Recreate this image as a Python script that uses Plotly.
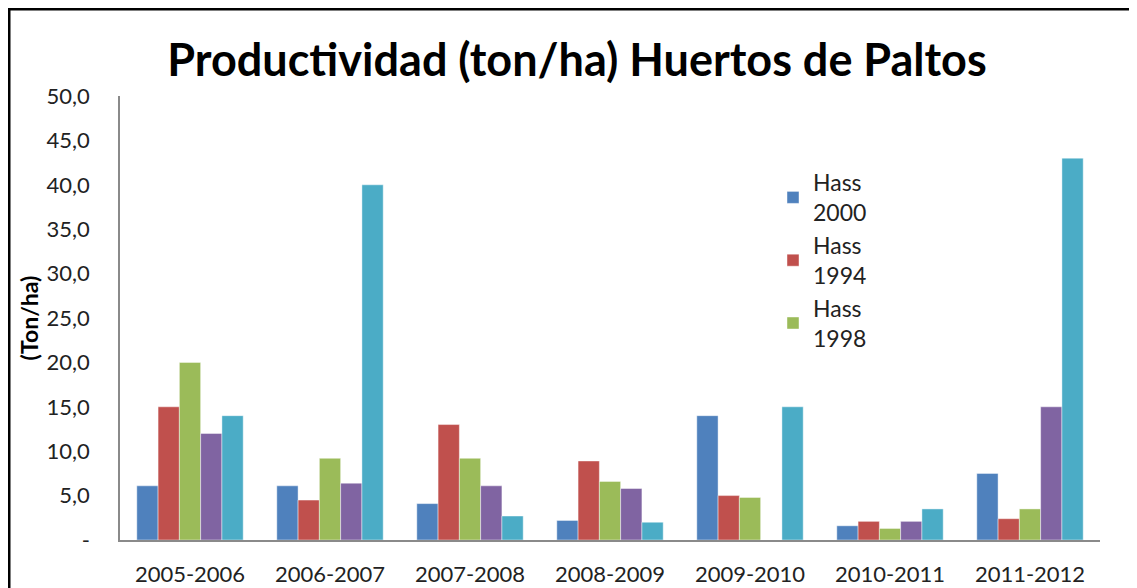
import plotly.graph_objects as go

categories = ["2005-2006", "2006-2007", "2007-2008", "2008-2009", "2009-2010", "2010-2011", "2011-2012"]
series_names = ["Hass<br>2000", "Hass<br>1994", "Hass<br>1998", "Serie 4", "Serie 5"]
hass_2000 = [6.1, 6.1, 4.1, 2.2, 14.0, 1.6, 7.5]
hass_1994 = [15.0, 4.5, 13.0, 8.9, 5.0, 2.1, 2.4]
hass_1998 = [20.0, 9.2, 9.2, 6.6, 4.8, 1.3, 3.5]
serie_4 = [12.0, 6.4, 6.1, 5.8, 0.0, 2.1, 15.0]
serie_5 = [14.0, 40.0, 2.7, 2.0, 15.0, 3.5, 43.0]
show_in_legend = [True, True, True, False, False]
colors = ["#4F81BD", "#C0504D", "#9BBB59", "#8064A2", "#4BACC6"]
y_tickvals = [0, 5, 10, 15, 20, 25, 30, 35, 40, 45, 50]
y_ticktext = ["-", "5,0", "10,0", "15,0", "20,0", "25,0", "30,0", "35,0", "40,0", "45,0", "50,0"]

FONT = "Lato, 'Open Sans', sans-serif"

# page is offset by the 8px body margin
OFF = 8
W, H = 1137 - OFF, 588 - OFF
L, T = 120 - OFF, 96 - OFF
R = W - (1100 - OFF)
B = H - (540 - OFF)
pw, ph = W - L - R, H - T - B

fig = go.Figure()
for name, vals, col, show in zip(series_names, [hass_2000, hass_1994, hass_1998, serie_4, serie_5], colors, show_in_legend):
    fig.add_trace(go.Bar(
        x=categories, y=vals, name=name, showlegend=show, legendgroup=name,
        marker=dict(color=col, line=dict(color="rgba(255,255,255,0.55)", width=0.8)),
    ))


def px_x(x):  # page px -> paper
    return (x - OFF - L) / pw


def px_y(y):
    return (H - B - (y - OFF)) / ph


fig.update_layout(
    width=W, height=H,
    margin=dict(l=L, r=R, t=T, b=B, autoexpand=False),
    paper_bgcolor="white", plot_bgcolor="white",
    barmode="group", bargap=0.24, bargroupgap=0,
    font=dict(family=FONT, color="#222222"),
    title=dict(text="<b>Productividad (ton/ha) Huertos de Paltos</b>",
               font=dict(family=FONT, size=45, color="black"),
               x=(577 - OFF) / W, xref="container", xanchor="center",
               y=1 - (60 - OFF) / H, yref="container", yanchor="middle"),
    legend=dict(x=px_x(773), y=px_y(161), xanchor="left", yanchor="top",
                font=dict(family=FONT, size=23, color="#222222"),
                bgcolor="rgba(0,0,0,0)", tracegroupgap=0, itemwidth=30),
    xaxis=dict(showline=True, linecolor="#8a8a8a", linewidth=1.5, showgrid=False,
               ticks="", ticklabelstandoff=14, automargin=False,
               tickfont=dict(family=FONT, size=22, color="#222222")),
    yaxis=dict(range=[0, 50], tickvals=y_tickvals, ticktext=y_ticktext,
               showline=True, linecolor="#8a8a8a", linewidth=1.5, showgrid=False,
               zeroline=False, ticks="", ticklabelstandoff=24, automargin=False,
               tickfont=dict(family=FONT, size=22, color="#222222"),
               title=dict(text="<b>(Ton/ha)</b>", font=dict(family=FONT, size=23, color="black"),
                          standoff=2)),
    shapes=[
        dict(type="line", xref="paper", yref="paper", x0=px_x(8), x1=px_x(1145),
             y0=px_y(9), y1=px_y(9), line=dict(color="black", width=3)),
        dict(type="line", xref="paper", yref="paper", x0=px_x(9), x1=px_x(9),
             y0=px_y(8), y1=px_y(600), line=dict(color="black", width=3)),
    ],
)

fig.write_html("out.html")
